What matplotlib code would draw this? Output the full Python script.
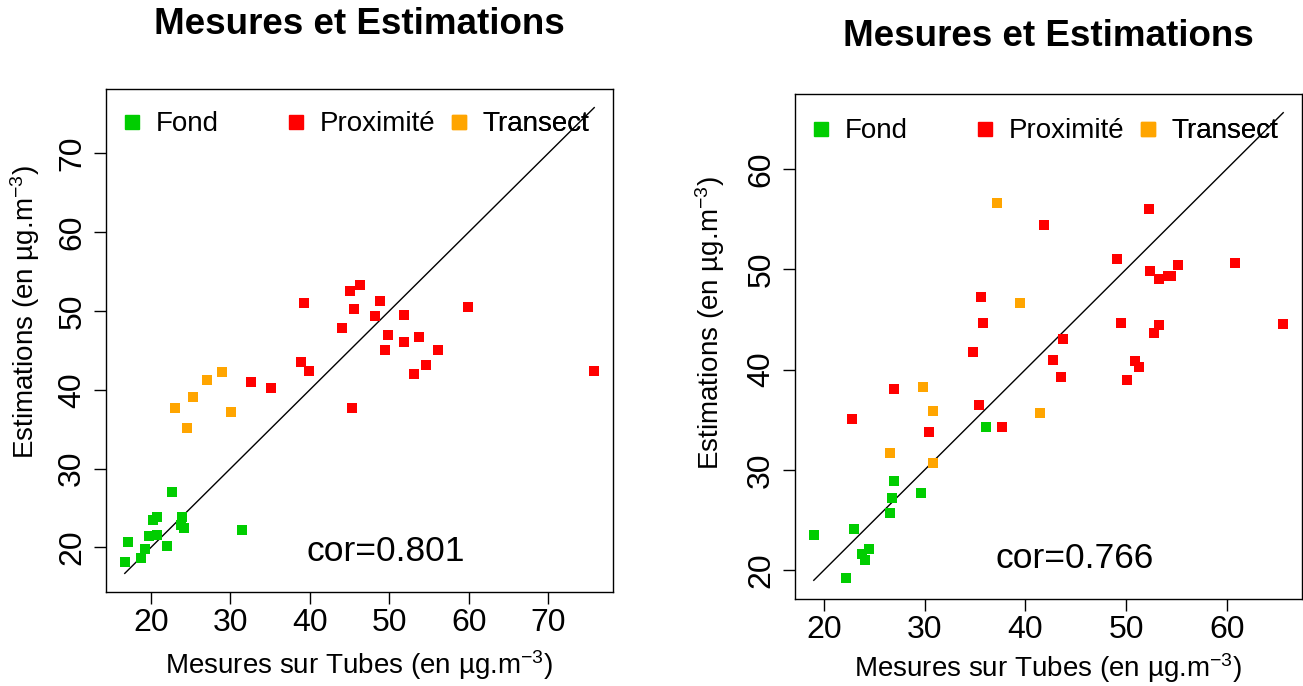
import matplotlib
matplotlib.use("Agg")
import matplotlib.pyplot as plt
from matplotlib.lines import Line2D

plt.rcParams['font.family'] = ['Liberation Sans', 'DejaVu Sans']
plt.rcParams['mathtext.fontset'] = 'custom'
plt.rcParams['mathtext.rm'] = 'Liberation Sans'
plt.rcParams['mathtext.it'] = 'Liberation Sans:italic'
plt.rcParams['mathtext.bf'] = 'Liberation Sans:bold'

# --- left panel (mesures vs estimations) ---
left_fond_x = [16.7, 17.1, 18.7, 19.2, 19.8, 20.7, 20.2, 20.7, 22.0, 22.6, 23.9, 23.8, 24.1, 31.4]
left_fond_y = [18.1, 20.7, 18.7, 19.8, 21.5, 21.6, 23.5, 23.8, 20.2, 27.0, 23.8, 22.8, 22.4, 22.2]
left_prox_x = [32.6, 35.1, 38.9, 39.9, 39.2, 44.1, 45.0, 46.3, 45.5, 45.3, 48.8, 48.2, 49.8, 49.5,
               51.8, 51.8, 53.8, 53.1, 54.6, 56.1, 59.9, 75.8]
left_prox_y = [41.0, 40.2, 43.5, 42.4, 51.0, 47.8, 52.5, 53.3, 50.2, 37.7, 51.3, 49.3, 47.0, 45.0,
               49.5, 46.0, 46.7, 42.0, 43.2, 45.0, 50.5, 42.4]
left_trans_x = [23.0, 24.5, 25.3, 27.0, 29.0, 30.1]
left_trans_y = [37.7, 35.2, 39.1, 41.2, 42.2, 37.2]
left_cor = "cor=0.801"
left_ticks = [20, 30, 40, 50, 60, 70]

# --- right panel ---
right_fond_x = [19.0, 22.2, 23.0, 23.8, 24.5, 24.1, 26.6, 26.8, 27.0, 29.6, 36.1]
right_fond_y = [23.5, 19.2, 24.1, 21.6, 22.1, 21.0, 25.7, 27.2, 28.9, 27.7, 34.3]
right_prox_x = [22.8, 27.0, 30.4, 35.4, 34.8, 35.8, 35.6, 37.7, 41.9, 42.7, 43.5, 43.7, 49.1, 49.5,
                50.1, 50.9, 51.3, 52.3, 52.4, 53.3, 54.2, 54.5, 55.2, 52.8, 53.3, 60.8, 65.6]
right_prox_y = [35.1, 38.1, 33.8, 36.5, 41.8, 44.6, 47.2, 34.3, 54.4, 41.0, 39.3, 43.0, 51.0, 44.6,
                39.0, 40.9, 40.3, 56.0, 49.8, 49.0, 49.3, 49.3, 50.4, 43.6, 44.4, 50.6, 44.5]
right_trans_x = [26.6, 29.8, 30.8, 30.8, 37.2, 39.5, 41.5]
right_trans_y = [31.7, 38.3, 35.9, 30.7, 56.6, 46.6, 35.7]
right_cor = "cor=0.766"
right_ticks = [20, 30, 40, 50, 60]

group_names = ["Fond", "Proximité", "Transect"]
group_colors = ["#00CD00", "#FF0000", "#FFA500"]

title = "Mesures et Estimations"
xlab = r"Mesures sur Tubes (en µg.m$^{-3}$)"
ylab = r"Estimations (en µg.m$^{-3}$)"


def panel(ax, groups, ticks, cor, leg_x, leg_y, title_y, xlab_y, ylab_x, ylab_y):
    allx = [v for g in groups for v in g[0]]
    lo, hi = min(allx), max(allx)
    pad = 0.04 * (hi - lo)
    for (gx, gy), col in zip(groups, group_colors):
        ax.scatter(gx, gy, marker='s', s=58, color=col, linewidths=0, zorder=3)
    ax.plot([lo, hi], [lo, hi], color='black', lw=1.0, zorder=2)
    ax.set_xlim(lo - pad, hi + pad)
    ax.set_ylim(lo - pad, hi + pad)
    ax.set_xticks(ticks)
    ax.set_yticks(ticks)
    ax.tick_params(length=8.5, width=1.0, labelsize=23, color='black')
    ax.tick_params(axis='x', pad=3)
    ax.tick_params(axis='y', labelrotation=90, pad=5)
    for lbl in ax.get_yticklabels():
        lbl.set_va('center')
    for sp in ax.spines.values():
        sp.set_linewidth(1.0)
    ax.text(0.5, title_y, title, transform=ax.transAxes, ha='center', va='center',
            fontsize=26.5, fontweight='bold')
    ax.set_xlabel(xlab, fontsize=20)
    ax.xaxis.set_label_coords(0.5, xlab_y)
    ax.xaxis.label.set_va('center')
    ax.set_ylabel(ylab, fontsize=20)
    ax.yaxis.set_label_coords(ylab_x, ylab_y)
    ax.yaxis.label.set_va('center')
    ax.text(0.552, 0.08, cor, transform=ax.transAxes, ha='center', va='center', fontsize=25.5)
    # legend: three equal-width columns like R's legend(ncol=3)
    for name, col, lx in zip(group_names, group_colors, leg_x):
        h = Line2D([], [], marker='s', ls='none', color=col, markersize=10)
        leg = ax.legend(handles=[h], labels=[name], loc='upper left',
                        bbox_to_anchor=(lx, leg_y), frameon=False, fontsize=20,
                        handletextpad=0.35, borderaxespad=0.3, handlelength=1.0)
        ax.add_artist(leg)


fig = plt.figure(figsize=(13.03, 6.86), dpi=100)
ax1 = fig.add_axes([106 / 1303, 94 / 686, 507 / 1303, 503 / 686])
ax2 = fig.add_axes([795 / 1303, 87 / 686, 507 / 1303, 505 / 686])

panel(ax1, [(left_fond_x, left_fond_y), (left_prox_x, left_prox_y), (left_trans_x, left_trans_y)],
      left_ticks, left_cor, [-0.015, 0.309, 0.631], 0.994, 1.129, -0.145, -0.16, 0.557)
panel(ax2, [(right_fond_x, right_fond_y), (right_prox_x, right_prox_y), (right_trans_x, right_trans_y)],
      right_ticks, right_cor, [-0.015, 0.309, 0.631], 0.990, 1.113, -0.137, -0.168, 0.547)

fig.savefig("out.png", dpi=100)
